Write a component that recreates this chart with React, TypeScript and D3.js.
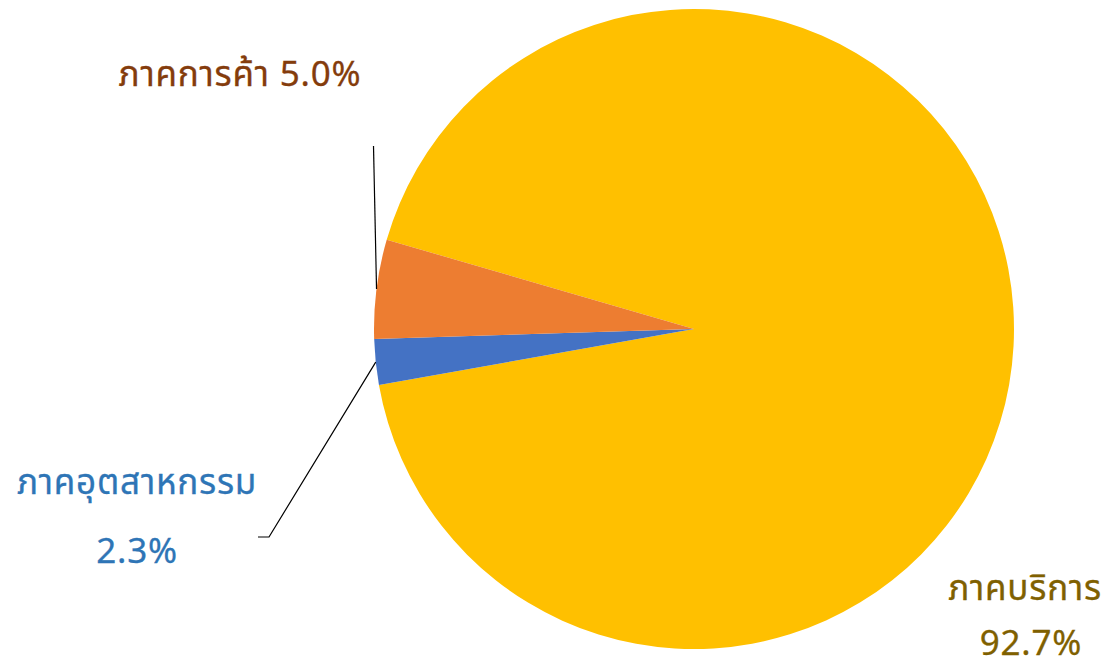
import React from 'react'
import * as d3 from 'd3'

const sectors = ['ภาคบริการ', 'ภาคอุตสาหกรรม', 'ภาคการค้า']
const shares = [92.7, 2.3, 5.0]
const sliceColors = ['#FFC000', '#4472C4', '#ED7D31']
const labelColors = ['#7F6000', '#2E75B6', '#843C0C']

const W = 1102
const H = 668
const cx = 694
const cy = 329
const radius = 320
const start = (286.2 * Math.PI) / 180
const font = "'Noto Sans Thai', 'Noto Sans', Tahoma, sans-serif"

export default function App() {
  const pie = d3
    .pie<number>()
    .sort(null)
    .value((d) => d)
    .startAngle(start)
    .endAngle(start + 2 * Math.PI)
  const arcs = pie(shares)
  const arc = d3.arc<d3.PieArcDatum<number>>().innerRadius(0).outerRadius(radius)

  // point on the rim at the middle of a slice
  const rim = (i: number) => {
    const a = (arcs[i].startAngle + arcs[i].endAngle) / 2
    return [cx + radius * Math.sin(a), cy - radius * Math.cos(a)]
  }
  const tradeRim = rim(2)
  const indRim = rim(1)

  return (
    <svg width={W} height={H} style={{ position: 'absolute', left: 0, top: 0 }} fontFamily={font}>
      <g transform={`translate(${cx},${cy})`}>
        {arcs.map((a, i) => (
          <path key={sectors[i]} d={arc(a) || ''} fill={sliceColors[i]} />
        ))}
      </g>

      {/* leader lines */}
      <path d={`M${tradeRim[0]},${tradeRim[1]} L373.5,146`} stroke="#000" strokeWidth={1.2} fill="none" />
      <path d={`M${indRim[0]},${indRim[1]} L269,537 L258,537`} stroke="#000" strokeWidth={1.2} fill="none" />

      <g fontSize={35} letterSpacing={0.8} textAnchor="middle">
        {/* trade label */}
        <text x={240} y={86} fill={labelColors[2]} stroke={labelColors[2]} strokeWidth={0.3}>
          {`${sectors[2]} ${shares[2].toFixed(1)}%`}
        </text>

        {/* industry label */}
        <text fill={labelColors[1]} stroke={labelColors[1]} strokeWidth={0.3}>
          <tspan x={137} y={494}>{sectors[1]}</tspan>
          <tspan x={137} y={563}>{`${shares[1].toFixed(1)}%`}</tspan>
        </text>

        {/* services label */}
        <text fill={labelColors[0]} stroke={labelColors[0]} strokeWidth={0.3}>
          <tspan x={1025} y={600}>{sectors[0]}</tspan>
          <tspan x={1031} y={655}>{`${shares[0].toFixed(1)}%`}</tspan>
        </text>
      </g>
    </svg>
  )
}
